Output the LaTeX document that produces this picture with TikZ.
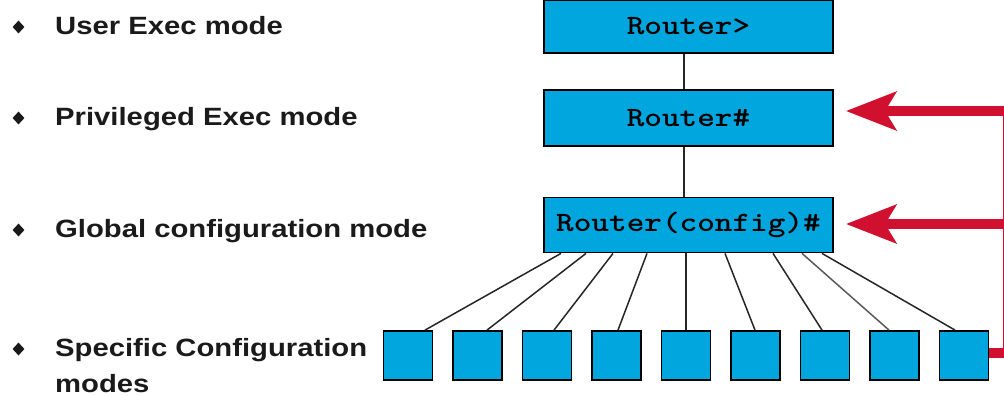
\documentclass[tikz,border=0pt]{standalone}
\usepackage{fontspec}
\setmainfont{Liberation Sans}
\usetikzlibrary{arrows.meta,shapes.geometric}
\definecolor{boxblue}{RGB}{0,166,221}
\definecolor{arrred}{RGB}{208,16,46}
\definecolor{txt}{RGB}{26,26,26}
\tikzset{
  modebox/.style={draw=black, line width=1.8pt, fill=boxblue, minimum width=289pt, minimum height=55pt, inner sep=0pt,
    font=\ttfamily\bfseries\fontsize{28}{32}\selectfont},
  subbox/.style={draw=black, line width=1.8pt, fill=boxblue, minimum width=49pt, minimum height=49pt, inner sep=0pt},
  link/.style={draw=black!85, line width=1.5pt},
  redline/.style={draw=arrred, line width=10pt},
  redarrow/.style={redline, -{Stealth[length=50pt, width=38pt, inset=11pt]}},
  bullet/.style={diamond, fill=txt, inner sep=0pt, minimum width=12pt, minimum height=13pt},
  label/.style={anchor=base west, inner sep=0pt, text=txt, font=\bfseries\fontsize{25}{30}\selectfont},
}
\newcommand{\wide}[1]{\scalebox{1.17}[1]{#1}}
\newcommand{\monowide}[1]{\scalebox{1.2}[1]{#1}}
\begin{document}
\begin{tikzpicture}[x=1pt,y=-1pt]
\useasboundingbox (0,0) rectangle (1004,396);
\begin{scope}
\clip (0,0) rectangle (1004,396);
% left labels
\node[bullet] (d1) at (18.5,27) {};
\node[bullet] (d2) at (18.5,118) {};
\node[bullet] (d3) at (18.5,230) {};
\node[bullet] (d4) at (18.5,349) {};
\node[label] (t1) at (55,35) {\wide{User Exec mode}};
\node[label] (t2) at (55,125) {\wide{Privileged Exec mode}};
\node[label] (t3) at (55,237) {\wide{Global configuration mode}};
\node[label] (t4) at (55,356) {\wide{Specific Configuration}};
\node[label] (t5) at (55,392) {\wide{modes}};
% mode boxes
\node[modebox, minimum height=53pt] (user) at (688.5,26.5) {\monowide{Router>}};
\node[modebox, minimum height=56pt] (priv) at (688.5,118) {\monowide{Router\#}};
\node[modebox, minimum height=55pt] (conf) at (688.5,225) {\monowide{Router(config)\#}};
% sub boxes
\foreach \i in {1,...,9} {
  \node[subbox] (b\i) at ({408+69.5*(\i-1)},355.5) {};
}
% vertical links
\draw[link] (user.south -| 684,0) -- (priv.north -| 684,0);
\draw[link] (priv.south -| 684,0) -- (conf.north -| 684,0);
% fan links
\draw[link] (conf.south -| 561,0) -- (b1.north -| 425,0);
\draw[link] (conf.south -| 586,0) -- (b2.north -| 487,0);
\draw[link] (conf.south -| 613,0) -- (b3.north -| 554,0);
\draw[link] (conf.south -| 647,0) -- (b4.north -| 618,0);
\draw[link] (conf.south -| 686,0) -- (b5.north -| 686,0);
\draw[link] (conf.south -| 725,0) -- (b6.north -| 755,0);
\draw[link] (conf.south -| 773,0) -- (b7.north -| 822,0);
\draw[link, draw=black!65] (conf.south -| 802,0) -- (b8.north -| 889,0);
\draw[link] (conf.south -| 822,0) -- (b9.north -| 955,0);
% red feedback arrows
\coordinate (rtop) at (1008,106);
\coordinate (rbot) at (1008,358);
\draw[redline] (rtop) -- (rbot);
\draw[redline] (b9.east |- 0,353) -- (1012,353);
\draw[redarrow] (1012,111) -- ([xshift=12pt]priv.east |- 0,111);
\draw[redarrow] (1012,224) -- ([xshift=12pt]conf.east |- 0,224);
\end{scope}
\end{tikzpicture}
\end{document}
